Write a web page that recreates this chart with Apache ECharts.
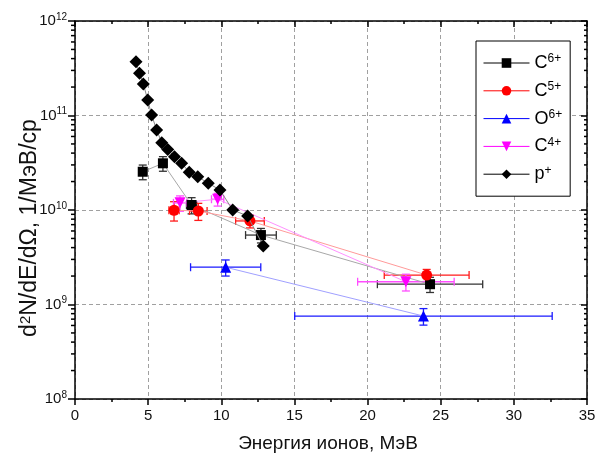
<!DOCTYPE html>
<html>
<head>
<meta charset="utf-8">
<script src="https://cdn.jsdelivr.net/npm/echarts@6/dist/echarts.min.js"></script>
<style>
  html, body { margin: 0; padding: 0; background: #fff; }
  #chart { width: 600px; height: 460px; }
</style>
</head>
<body>
<div id="chart"></div>
<script>
// Ion spectra: energy (MeV), dN/dE/dΩ (1/MeV/sr), and symmetric errors
const energyC6 = [4.63, 6.01, 7.97, 12.71, 24.27];
const valueC6 = [2.54e10, 3.12e10, 1.13e10, 5.43e9, 1.64e9];
const energyErrC6 = [0.25, 0.25, 0.35, 1.05, 3.6];
const valueErrC6 = [0.45e10, 0.55e10, 0.22e10, 0.95e9, 0.3e9];

const energyC5 = [6.77, 8.43, 11.96, 24.04];
const valueC5 = [9.94e9, 9.76e9, 7.66e9, 2.05e9];
const energyErrC5 = [0.35, 0.6, 0.98, 2.9];
const valueErrC5 = [2.3e9, 2.0e9, 1.2e9, 0.3e9];

const energyO6 = [10.30, 23.82];
const valueO6 = [2.48e9, 7.55e8];
const energyErrO6 = [2.4, 8.8];
const valueErrO6 = [0.48e9, 0.15e9];

const energyC4 = [7.18, 9.75, 22.62];
const valueC4 = [1.19e10, 1.30e10, 1.74e9];
const energyErrC4 = [0.45, 0.42, 3.3];
const valueErrC4 = [2.2e9, 2.0e9, 0.35e9];

const energyP = [4.17, 4.41, 4.67, 4.97, 5.24, 5.58, 5.93, 6.34, 6.80, 7.29, 7.81, 8.39, 9.11, 9.91, 10.78, 11.80, 12.87];
const valueP = [3.71e11, 2.80e11, 2.16e11, 1.46e11, 1.01e11, 7.03e10, 5.16e10, 4.38e10, 3.66e10, 3.12e10, 2.51e10, 2.25e10, 1.92e10, 1.63e10, 1.0e10, 8.65e9, 4.16e9];

const xTicks = [0, 5, 10, 15, 20, 25, 30, 35];
const yDecades = [8, 9, 10, 11, 12];

const FONT = "'Liberation Sans', Arial, sans-serif";
const X_MIN = 0, X_MAX = 35, Y_MIN = 1e8, Y_MAX = 1e12;

const zip = (xs, ys) => xs.map((x, i) => [x, ys[i]]);
const zipErr = (xs, ys, ex, ey) => xs.map((x, i) => [x, ys[i], ex[i], ey[i]]);

// Minor tick positions on the log axis: 2..9 within each decade
const logMinor = [];
for (let d = yDecades[0]; d < yDecades[yDecades.length - 1]; d++) {
  for (let m = 2; m <= 9; m++) logMinor.push([0, m * Math.pow(10, d)]);
}

function errorBars(color) {
  return function (params, api) {
    const x = api.value(0), y = api.value(1), ex = api.value(2), ey = api.value(3);
    const c = api.coord([x, y]);
    const xl = api.coord([x - ex, y])[0];
    const xr = api.coord([x + ex, y])[0];
    const yt = api.coord([x, y + ey])[1];
    const yb = api.coord([x, y - ey])[1];
    const cap = 4;
    const st = { stroke: color, lineWidth: 1.3 };
    const line = (x1, y1, x2, y2) => ({ type: 'line', shape: { x1, y1, x2, y2 }, style: st });
    return {
      type: 'group',
      children: [
        line(xl, c[1], xr, c[1]),
        line(xl, c[1] - cap, xl, c[1] + cap),
        line(xr, c[1] - cap, xr, c[1] + cap),
        line(c[0], yt, c[0], yb),
        line(c[0] - cap, yt, c[0] + cap, yt),
        line(c[0] - cap, yb, c[0] + cap, yb)
      ]
    };
  };
}

function ionSeries(name, xs, ys, ex, ey, opts) {
  return [
    {
      type: 'custom',
      id: name + '-err',
      data: zipErr(xs, ys, ex, ey),
      encode: { x: 0, y: 1 },
      renderItem: errorBars(opts.errColor),
      z: 3,
      silent: true
    },
    {
      type: 'line',
      name: name,
      data: zip(xs, ys),
      symbol: opts.symbol,
      symbolSize: opts.size,
      symbolRotate: opts.rotate || 0,
      itemStyle: { color: opts.color },
      lineStyle: { color: opts.lineColor, width: 1 },
      z: 4,
      animation: false
    }
  ];
}

const chart = echarts.init(document.getElementById('chart'), null, { renderer: 'canvas' });

const supRich = {
  b: { fontFamily: FONT, fontSize: 18, color: '#000', lineHeight: 20 },
  s: { fontFamily: FONT, fontSize: 12, color: '#000', verticalAlign: 'top', lineHeight: 12 }
};

const legendNames = ['C6+', 'C5+', 'O6+', 'C4+', 'p+'];
const legendColors = ['#000', '#ff0000', '#0000ff', '#ff00ff', '#000'];

const option = {
  backgroundColor: '#fff',
  animation: false,
  grid: { left: 75, right: 13, top: 21, bottom: 61, containLabel: false, outerBoundsMode: 'none' },
  legend: {
    orient: 'vertical',
    left: 476,
    top: 41,
    padding: [12, 8, 13, 7],
    itemGap: 8.8,
    itemWidth: 46,
    itemHeight: 12,
    borderColor: '#000',
    borderWidth: 1,
    backgroundColor: '#fff',
    data: legendNames.map((n, i) => ({ name: n, lineStyle: { color: legendColors[i], width: 1 } })),
    formatter: function (name) {
      const m = name.match(/^([A-Za-z]+)(.*)$/);
      return '{b|' + m[1] + '}{s|' + m[2] + '}';
    },
    textStyle: { rich: supRich }
  },
  xAxis: [
    {
      type: 'value', min: X_MIN, max: X_MAX, interval: 5,
      position: 'bottom',
      name: 'Энергия ионов, МэВ',
      nameLocation: 'middle',
      nameGap: 35,
      nameTextStyle: { fontFamily: FONT, fontSize: 19, color: '#111', padding: [0, 6, 0, 0] },
      axisLine: { show: true, onZero: false, lineStyle: { color: '#000', width: 1.5 } },
      axisTick: { show: true, inside: false, length: 6, lineStyle: { color: '#000', width: 1.5 } },
      minorTick: { show: true, splitNumber: 2, length: 3, lineStyle: { color: '#000', width: 1.5 } },
      axisLabel: { fontFamily: FONT, fontSize: 15, color: '#111', margin: 9,
        formatter: v => (xTicks.indexOf(v) >= 0 ? String(v) : '') },
      splitLine: { show: true, lineStyle: { color: '#a0a0a0', type: [4, 3], width: 1 } }
    },
    {
      type: 'value', min: X_MIN, max: X_MAX, interval: 5,
      position: 'top',
      axisLine: { show: true, onZero: false, lineStyle: { color: '#000', width: 1.5 } },
      axisTick: { show: true, inside: true, length: 6, lineStyle: { color: '#000', width: 1.5 } },
      minorTick: { show: true, splitNumber: 2, length: 3, lineStyle: { color: '#000', width: 1.5 } },
      axisLabel: { show: false },
      splitLine: { show: false }
    }
  ],
  yAxis: [
    {
      type: 'log', min: Y_MIN, max: Y_MAX, logBase: 10,
      position: 'left',
      name: '{a|d}{s|2}{a|N/dE/dΩ, 1/МэВ/ср}',
      nameLocation: 'middle',
      nameGap: 33,
      nameMoveOverlap: false,
      nameTextStyle: {
        padding: [0, 36, 0, 0],
        rich: {
          a: { fontFamily: FONT, fontSize: 23, color: '#111', lineHeight: 24 },
          s: { fontFamily: FONT, fontSize: 15, color: '#111', verticalAlign: 'top', lineHeight: 15 }
        }
      },
      axisLine: { show: true, onZero: false, lineStyle: { color: '#000', width: 1.5 } },
      axisTick: { show: true, inside: false, length: 7, lineStyle: { color: '#000', width: 1.5 } },
      axisLabel: {
        margin: 8,
        formatter: v => '{b|10}{s|' + Math.round(Math.log10(v)) + '}',
        rich: {
          b: { fontFamily: FONT, fontSize: 15, color: '#111', lineHeight: 18 },
          s: { fontFamily: FONT, fontSize: 10, color: '#111', verticalAlign: 'top', lineHeight: 10 }
        }
      },
      splitLine: { show: true, lineStyle: { color: '#a0a0a0', type: [4, 3], width: 1 } }
    },
    {
      type: 'log', min: Y_MIN, max: Y_MAX, logBase: 10,
      position: 'right',
      axisLine: { show: true, onZero: false, lineStyle: { color: '#000', width: 1.5 } },
      axisTick: { show: true, inside: true, length: 6, lineStyle: { color: '#000', width: 1.5 } },
      axisLabel: { show: false },
      splitLine: { show: false }
    }
  ],
  series: [
    // minor ticks of the log scale on the left (outward) and right (inward) frame
    {
      type: 'custom',
      id: 'log-minor-ticks',
      data: logMinor,
      encode: { x: 0, y: 1 },
      silent: true,
      z: 10,
      renderItem: function (params, api) {
        const v = api.value(1);
        const pl = api.coord([X_MIN, v]);
        const pr = api.coord([X_MAX, v]);
        const st = { stroke: '#000', lineWidth: 1.5 };
        return {
          type: 'group',
          children: [
            { type: 'line', shape: { x1: pl[0] - 4, y1: pl[1], x2: pl[0], y2: pl[1] }, style: st },
            { type: 'line', shape: { x1: pr[0] - 3, y1: pr[1], x2: pr[0], y2: pr[1] }, style: st }
          ]
        };
      }
    },
    ...ionSeries('C6+', energyC6, valueC6, energyErrC6, valueErrC6,
      { symbol: 'rect', size: 10, color: '#000', lineColor: '#a8a8a8', errColor: '#333' }),
    ...ionSeries('C5+', energyC5, valueC5, energyErrC5, valueErrC5,
      { symbol: 'circle', size: 11, color: '#ff0000', lineColor: '#ff9a9a', errColor: '#ff1a1a' }),
    ...ionSeries('O6+', energyO6, valueO6, energyErrO6, valueErrO6,
      { symbol: 'triangle', size: 11, color: '#0000ff', lineColor: '#a0a0ff', errColor: '#1a1aff' }),
    ...ionSeries('C4+', energyC4, valueC4, energyErrC4, valueErrC4,
      { symbol: 'triangle', size: 11, rotate: 180, color: '#ff00ff', lineColor: '#ff90ff', errColor: '#ff4dff' }),
    {
      type: 'line',
      name: 'p+',
      data: zip(energyP, valueP),
      symbol: 'diamond',
      symbolSize: 13,
      itemStyle: { color: '#000' },
      lineStyle: { color: '#888', width: 1 },
      z: 5,
      animation: false
    }
  ]
};

chart.setOption(option);
</script>
</body>
</html>
